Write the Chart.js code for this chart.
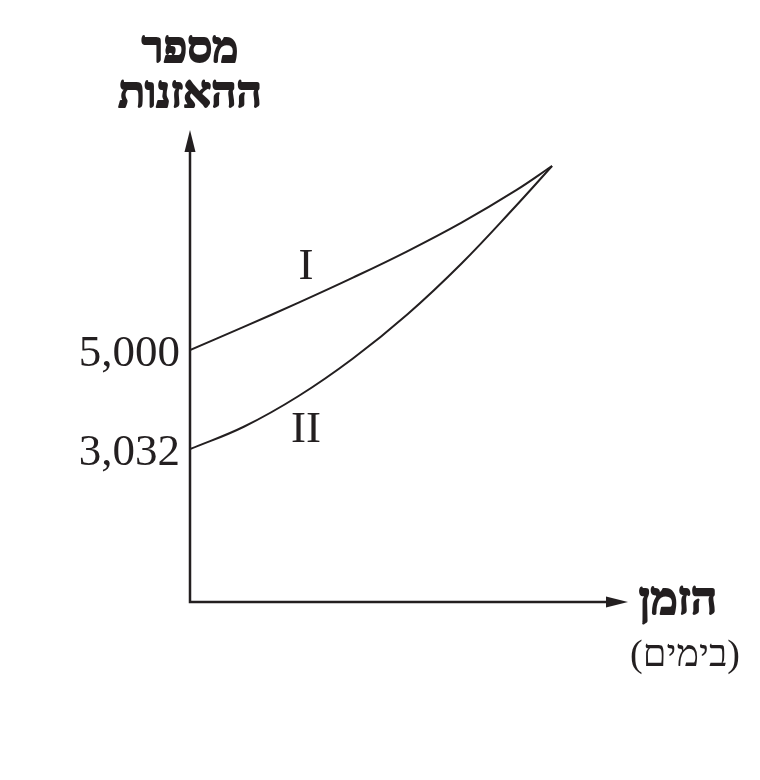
<!DOCTYPE html>
<html>
<head>
<meta charset="utf-8">
<script src="https://cdn.jsdelivr.net/npm/chart.js@4.4.1/dist/chart.umd.min.js"></script>
<style>
html,body{margin:0;padding:0;background:#fff;}
#wrap{width:760px;height:780px;position:relative;}
</style>
</head>
<body>
<div id="wrap"><canvas id="c"></canvas></div>
<script>
// Data
const days = [0, 1.5, 3, 4.5, 6, 7.5, 9, 10];
const seriesI = [5000, 5462, 5940, 6436, 6958, 7527, 8166, 8650];
const seriesII = [3032, 3482, 4087, 4831, 5704, 6716, 7857, 8650];
const yTickValues = [3032, 5000];
const curveLabels = ['I', 'II'];
const yTitleLines = ['מספר', 'ההאזנות'];
const xTitleLines = ['הזמן', '(בימים)'];

const INK = '#231f20';
const SERIF = '"Liberation Serif", "DejaVu Serif", serif';

function toPts(xs, ys) { return xs.map((x, i) => ({x: x, y: ys[i]})); }

function boldText(ctx, t, x, y) {
  ctx.fillText(t, x, y);
  ctx.strokeText(t, x, y);
}

const decor = {
  id: 'decor',
  afterDraw(chart) {
    const ctx = chart.ctx;
    const a = chart.chartArea;
    ctx.save();
    ctx.strokeStyle = INK;
    ctx.fillStyle = INK;
    ctx.lineWidth = 2.5;
    // axes
    ctx.beginPath();
    ctx.moveTo(a.left, a.top);
    ctx.lineTo(a.left, a.bottom);
    ctx.lineTo(a.right, a.bottom);
    ctx.stroke();
    // arrow heads
    ctx.beginPath();
    ctx.moveTo(a.left, a.top - 22);
    ctx.lineTo(a.left - 5.5, a.top);
    ctx.lineTo(a.left + 5.5, a.top);
    ctx.closePath();
    ctx.fill();
    ctx.beginPath();
    ctx.moveTo(a.right + 22, a.bottom);
    ctx.lineTo(a.right, a.bottom - 5.5);
    ctx.lineTo(a.right, a.bottom + 5.5);
    ctx.closePath();
    ctx.fill();

    // y title
    ctx.textAlign = 'center';
    ctx.textBaseline = 'alphabetic';
    ctx.direction = 'rtl';
    ctx.lineWidth = 1.8;
    ctx.lineJoin = 'round';
    ctx.font = 'bold 44px ' + SERIF;
    boldText(ctx, yTitleLines[0], a.left, 62);
    boldText(ctx, yTitleLines[1], a.left, 107);
    // x title
    ctx.font = 'bold 46px ' + SERIF;
    boldText(ctx, xTitleLines[0], 678, 614);
    ctx.font = '38px ' + SERIF;
    ctx.fillText(xTitleLines[1], 685, 666);

    // curve labels
    ctx.direction = 'ltr';
    ctx.textBaseline = 'middle';
    ctx.font = '45px ' + SERIF;
    ctx.fillText(curveLabels[0], 306, 267);
    ctx.fillText(curveLabels[1], 306, 430);
    ctx.restore();
  }
};

new Chart(document.getElementById('c'), {
  type: 'line',
  data: {
    datasets: [
      { label: 'I', data: toPts(days, seriesI), borderColor: INK, borderWidth: 2, pointRadius: 0, fill: false, tension: 0.4 },
      { label: 'II', data: toPts(days, seriesII), borderColor: INK, borderWidth: 2, pointRadius: 0, fill: false, tension: 0.4 }
    ]
  },
  options: {
    responsive: true,
    maintainAspectRatio: false,
    animation: false,
    devicePixelRatio: 1,
    layout: { padding: { top: 152, right: 154, bottom: 178, left: 0 } },
    plugins: { legend: { display: false }, tooltip: { enabled: false }, title: { display: false } },
    scales: {
      x: {
        type: 'linear', min: 0, max: 11.49, display: false
      },
      y: {
        type: 'linear', min: 0, max: 8928,
        grid: { display: false, drawTicks: false },
        border: { display: false },
        afterBuildTicks: (s) => { s.ticks = yTickValues.map(v => ({ value: v })); },
        afterFit: (s) => { s.width = 190; },
        ticks: {
          color: INK,
          padding: 10,
          labelOffset: 4,
          font: { family: SERIF, size: 45 },
          callback: (v) => v.toLocaleString('en-US')
        }
      }
    }
  },
  plugins: [decor]
});
</script>
</body>
</html>
